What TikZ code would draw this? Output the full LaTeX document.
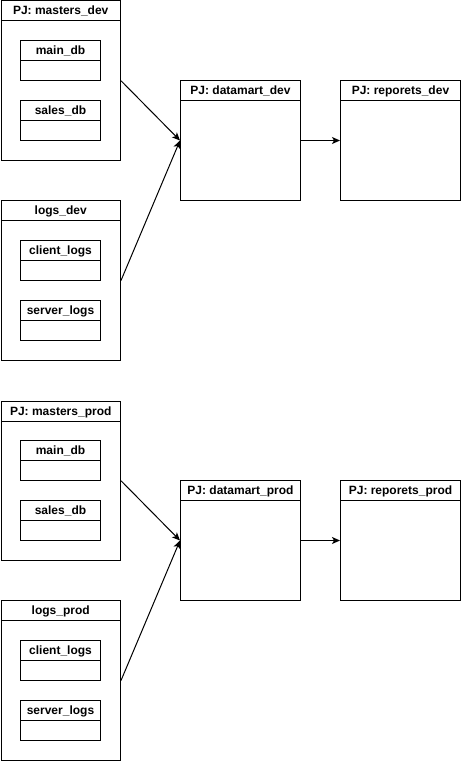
\documentclass[tikz,border=0pt]{standalone}
\usepackage{fontspec}
\setmainfont{Liberation Sans}
\usetikzlibrary{arrows.meta}
\begin{document}
\begin{tikzpicture}[x=1pt,y=-1pt,
  frame/.style={draw=black, line width=1pt, fill=white, anchor=north west, inner sep=0pt},
  head/.style={draw=black, line width=1pt, anchor=north west, inner sep=0pt, minimum height=20pt,
    text height=9pt, text depth=1pt,
    font=\fontsize{12}{14}\selectfont\bfseries},
  conn/.style={draw=black, line width=1pt, -{Stealth[length=8pt,width=7pt,inset=2pt]}}]
\useasboundingbox (0,0) rectangle (462,762);
\foreach \s/\o in {dev/0, prod/400}{
  % masters
  \node[frame, minimum width=119.5pt, minimum height=159.5pt] (m\s) at (0.5,\o+0.5) {};
  \node[head, minimum width=119.5pt] (mh\s) at (0.5,\o+0.5) {PJ: masters\_\s};
  \node[frame, minimum width=80pt, minimum height=40pt] (mm\s) at (20,\o+40) {};
  \node[head, minimum width=80pt] (mmh\s) at (20,\o+40) {main\_db};
  \node[frame, minimum width=80pt, minimum height=40pt] (ms\s) at (20,\o+100) {};
  \node[head, minimum width=80pt] (msh\s) at (20,\o+100) {sales\_db};
  % logs
  \node[frame, minimum width=119.5pt, minimum height=160pt] (l\s) at (0.5,\o+200) {};
  \node[head, minimum width=119.5pt] (lh\s) at (0.5,\o+200) {logs\_\s};
  \node[frame, minimum width=80pt, minimum height=40pt] (lc\s) at (20,\o+240) {};
  \node[head, minimum width=80pt] (lch\s) at (20,\o+240) {client\_logs};
  \node[frame, minimum width=80pt, minimum height=40pt] (ls\s) at (20,\o+300) {};
  \node[head, minimum width=80pt] (lsh\s) at (20,\o+300) {server\_logs};
  % datamart
  \node[frame, minimum width=120pt, minimum height=120pt] (d\s) at (180,\o+80) {};
  \node[head, minimum width=120pt] (dh\s) at (180,\o+80) {PJ: datamart\_\s};
  % reports
  \node[frame, minimum width=120pt, minimum height=120pt] (r\s) at (340,\o+80) {};
  \node[head, minimum width=120pt] (rh\s) at (340,\o+80) {PJ: reporets\_\s};
  % connectors
  \draw[conn] (m\s.east) -- (d\s.west);
  \draw[conn] (l\s.east) -- (d\s.west);
  \draw[conn] (d\s.east) -- (r\s.west);
}
\end{tikzpicture}
\end{document}
